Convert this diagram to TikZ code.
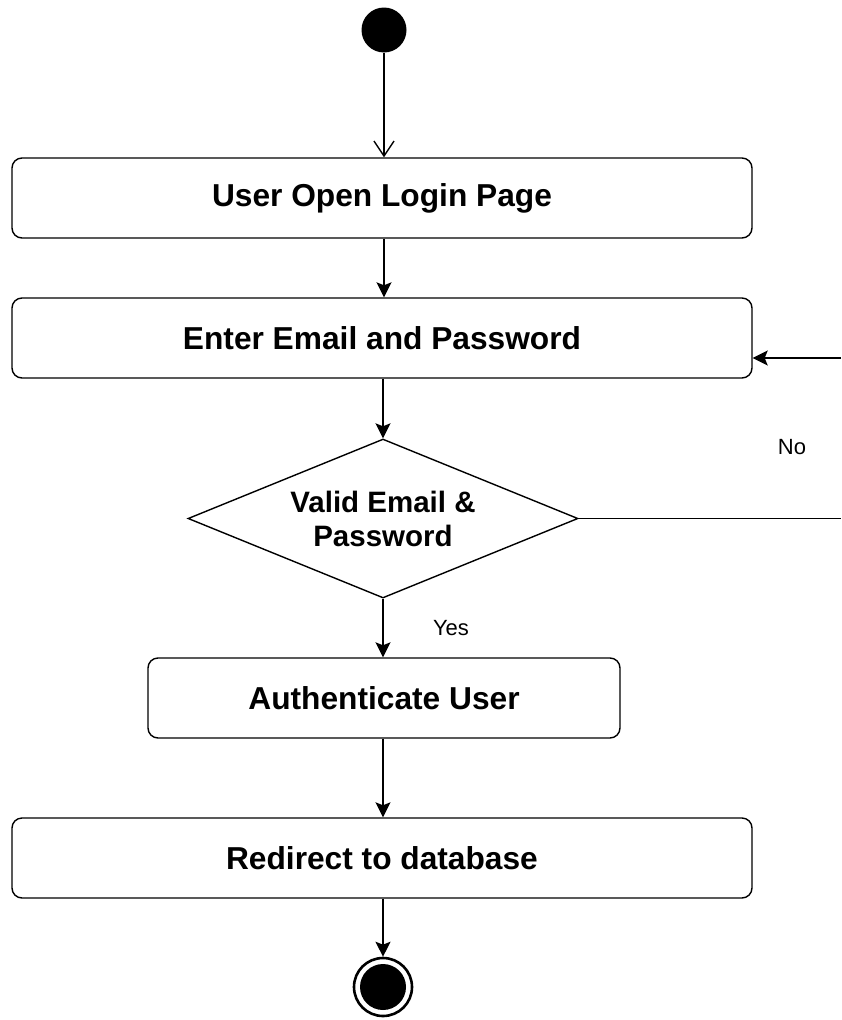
\documentclass[tikz,border=0pt]{standalone}
\usepackage{fontspec}
\setmainfont{Liberation Sans}
\usetikzlibrary{shapes.geometric,arrows.meta}
\tikzset{
  flow/.style={line width=1.4pt, draw=black},
  act/.style={flow, rectangle, rounded corners=10pt, minimum height=80pt,
    inner sep=0pt, font=\fontsize{31.7pt}{36pt}\selectfont\bfseries},
  choice/.style={flow, diamond, aspect=2.45, minimum width=390pt, minimum height=159pt,
    inner sep=0pt, align=center, font=\fontsize{29.5pt}{34pt}\selectfont\bfseries},
  tag/.style={inner sep=0pt, font=\fontsize{22pt}{26pt}\selectfont},
  link/.style={flow, -{Stealth[length=15pt, width=15pt, inset=3pt]}},
  openlink/.style={flow, -{Straight Barb[length=15pt, width=20pt, line width=1.4pt]}},
}
\begin{document}
\begin{tikzpicture}[x=1pt, y=-1pt]
  \useasboundingbox (0,0) rectangle (841,1020);
  % start and end states
  \node[circle, fill=black, minimum size=45pt, inner sep=0pt] (start) at (384,30) {};
  \node[circle, draw=black, line width=2.6pt, minimum size=58pt, inner sep=0pt] (finish) at (383,987) {};
  \node[circle, fill=black, minimum size=46pt, inner sep=0pt] (finishdot) at (383,987) {};
  % activities
  \node[act, minimum width=740pt] (open) at (382,198) {User Open Login Page};
  \node[act, minimum width=740pt] (enter) at (382,338) {Enter Email and Password};
  \node[choice] (valid) at (383,518.5) {Valid Email \&\\Password};
  \node[act, minimum width=472pt] (auth) at (384,698) {Authenticate User};
  \node[act, minimum width=740pt] (redirect) at (382,858) {Redirect to database};
  % labels
  \node[tag] (yes) at (451,628) {Yes};
  \node[tag] (no) at (792,447) {No};
  % loop ends at the picture edge
  \coordinate (noout) at (841,518.5);
  \coordinate (noin) at (841,358);
  % connectors
  \draw[openlink] (start) -- (start |- open.north);
  \draw[link] (open.south -| start) -- (enter.north -| start);
  \draw[link] (enter.south -| valid) -- (valid.north);
  \draw[link] (valid.south) -- (auth.north -| valid);
  \draw[link] (auth.south -| valid) -- (redirect.north -| valid);
  \draw[link] (redirect.south -| finish) -- (finish.north);
  \draw[flow] (valid.east) -- (noout);
  \draw[link] (noin) -- (noin -| enter.east);
\end{tikzpicture}
\end{document}
